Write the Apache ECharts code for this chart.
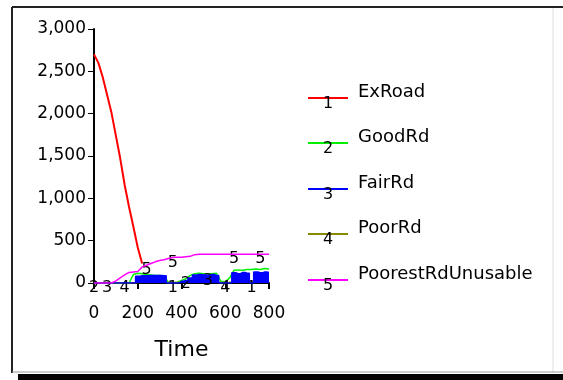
<!DOCTYPE html>
<html>
<head>
<meta charset="utf-8">
<script src="https://cdn.jsdelivr.net/npm/echarts@6/dist/echarts.min.js"></script>
<style>
  html, body { margin: 0; padding: 0; background: #fff; }
  #chart { width: 563px; height: 380px; }
</style>
</head>
<body>
<div id="chart"></div>
<script>
// time steps (shared by every series)
const times = [0, 20, 40, 60, 80, 100, 120, 140, 160, 180, 200, 220, 240, 260, 280, 300, 320, 340, 360, 380,
  400, 420, 440, 460, 480, 500, 520, 540, 560, 580, 600, 620, 640, 660, 680, 700, 720, 740, 760, 780, 800];

const exRoad = [2700, 2600, 2430, 2220, 2010, 1740, 1470, 1160, 900, 665, 420, 230];
const goodRd = [0, 0, 0, 0, 0, 0, 0, 0, 0, 100, 115, 110, 100, 95, 90, 90, 80, 10, 5, 10,
  30, 50, 90, 110, 115, 110, 105, 110, 115, 20, 15, 60, 150, 155, 150, 160, 160, 165, 160, 170, 165];
const fairRd = [0, 0, 0, 0, 0, 0, 0, 0, 0, 0, 80, 85, 85, 90, 90, 90, 85, 0, 0, 0,
  20, 30, 60, 95, 100, 95, 90, 100, 90, 0, 0, 0, 120, 110, 125, 115, 0, 130, 120, 130, 125];
const poorRd = [0, 0, 0, 0, 0, 0, 0, 0, 0, 0, 5, 8, 10, 10, 12, 12, 10, 5, 5, 5,
  8, 10, 10, 12, 12, 12, 10, 10, 10, 5, 5, 8, 12, 12, 15, 15, 10, 15, 15, 15, 15];
const poorestRd = [0, 0, 0, 0, 0, 25, 60, 95, 125, 130, 135, 190, 210, 230, 250, 265, 275, 290, 300, 305,
  305, 310, 315, 335, 340, 340, 340, 340, 340, 340, 340, 340, 340, 340, 340, 340, 340, 340, 340, 340, 340];

const names = ['ExRoad', 'GoodRd', 'FairRd', 'PoorRd', 'PoorestRdUnusable'];
const colors = ['#ff0000', '#00ee00', '#0000ff', '#8a8a00', '#ff00ff'];
const values = [exRoad, goodRd, fairRd, poorRd, poorestRd];
// times where the series number is written on the curve
const markTimes = [[360, 720], [0, 420], [60, 520], [140, 600], [240, 360, 640, 760]];

const yTicks = [0, 500, 1000, 1500, 2000, 2500, 3000];
const xTicks = [0, 200, 400, 600, 800];

const chart = echarts.init(document.getElementById('chart'));
const font = '"DejaVu Sans", Verdana, sans-serif';

const drawOrder = [0, 1, 3, 2, 4];
const series = drawOrder.map(i => ({
  name: names[i],
  type: 'line',
  data: times.map((t, k) => [t, values[i][k] === undefined ? null : values[i][k]]),
  showSymbol: false,
  step: i === 2 ? 'middle' : false,
  lineStyle: { color: colors[i], width: i === 0 ? 2 : 1.5 },
  itemStyle: { color: colors[i] },
  areaStyle: i === 2 ? { color: colors[i], opacity: 1 } : undefined,
  z: 2 + drawOrder.indexOf(i),
  markPoint: {
    symbol: 'rect',
    symbolSize: 0,
    silent: true,
    label: {
      show: true,
      position: 'inside',
      offset: [0, 5],
      color: '#000',
      fontFamily: font,
      fontSize: 16,
      formatter: String(i + 1)
    },
    data: markTimes[i].map(t => {
      const v = values[i][times.indexOf(t)];
      return { coord: [t, v === undefined ? 0 : v] };
    })
  }
}));

// legend drawn as in the original: line with number, name above right
const legendY = [98, 143, 189, 234, 280];
const legend = [];
names.forEach((n, i) => {
  legend.push({
    type: 'line', shape: { x1: 308, y1: legendY[i], x2: 348, y2: legendY[i] },
    style: { stroke: colors[i], lineWidth: 2 }
  });
  legend.push({
    type: 'text', x: 328, y: legendY[i] + 6,
    style: { text: String(i + 1), fill: '#000', font: '16px ' + font, align: 'center', verticalAlign: 'middle' }
  });
  legend.push({
    type: 'text', x: 358, y: legendY[i] - 6,
    style: { text: n, fill: '#000', font: '18px ' + font, align: 'left', verticalAlign: 'middle' }
  });
});

const option = {
  backgroundColor: '#fff',
  animation: false,
  grid: { left: 94, right: 294, top: 29, bottom: 97 },
  xAxis: {
    type: 'value',
    min: xTicks[0],
    max: xTicks[xTicks.length - 1],
    interval: 200,
    name: 'Time',
    nameLocation: 'middle',
    nameGap: 56,
    nameTextStyle: { fontFamily: font, fontSize: 22, color: '#000' },
    splitLine: { show: false },
    axisLine: { lineStyle: { color: '#000', width: 2 } },
    axisTick: { show: true, length: 6, lineStyle: { color: '#000', width: 2 } },
    axisLabel: { margin: 22, fontFamily: font, fontSize: 17, color: '#000' }
  },
  yAxis: {
    type: 'value',
    min: yTicks[0],
    max: yTicks[yTicks.length - 1],
    interval: 500,
    splitLine: { show: false },
    axisLine: { show: true, lineStyle: { color: '#000', width: 2 } },
    axisTick: { show: true, length: 6, lineStyle: { color: '#000', width: 1 } },
    axisLabel: {
      margin: 8, fontFamily: font, fontSize: 17, color: '#000',
      formatter: v => v.toLocaleString('en-US')
    }
  },
  series: series,
  graphic: [
    // frame
    { type: 'line', shape: { x1: 12, y1: 7, x2: 563, y2: 7 }, style: { stroke: '#222', lineWidth: 2 } },
    { type: 'line', shape: { x1: 12, y1: 7, x2: 12, y2: 373 }, style: { stroke: '#222', lineWidth: 2 } },
    { type: 'line', shape: { x1: 553, y1: 8, x2: 553, y2: 372 }, style: { stroke: '#ddd', lineWidth: 1 } },
    { type: 'line', shape: { x1: 12, y1: 372, x2: 563, y2: 372 }, style: { stroke: '#999', lineWidth: 1 } },
    { type: 'rect', shape: { x: 18, y: 374, width: 545, height: 6 }, style: { fill: '#000' } }
  ].concat(legend)
};

chart.setOption(option);
</script>
</body>
</html>
